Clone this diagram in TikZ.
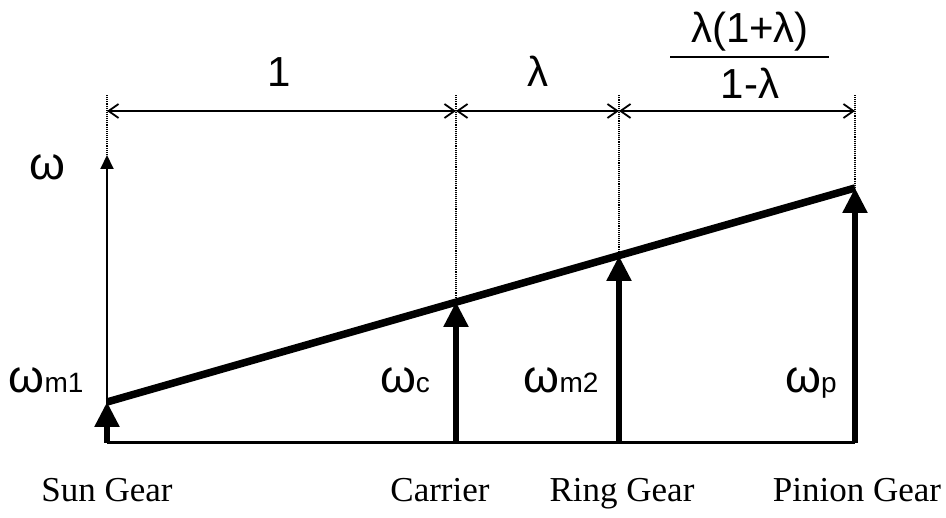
\documentclass[tikz,border=0pt]{standalone}
\usepackage{fontspec}
\setmainfont{Liberation Serif}
\newfontfamily\arialf{Liberation Sans}
\usetikzlibrary{arrows.meta}
\tikzset{
  gearlbl/.style={font=\fontsize{35}{40}\selectfont, inner sep=0pt},
  greek/.style={font=\arialf\fontsize{46}{50}\selectfont, inner sep=0pt},
  dimlbl/.style={font=\arialf\fontsize{42}{46}\selectfont, inner sep=0pt},
  guide/.style={densely dotted, line width=1.1pt},
  dimline/.style={line width=1.8pt, {Straight Barb[length=10pt,width=14pt]}-{Straight Barb[length=10pt,width=14pt]}},
  axisarrow/.style={line width=2pt, -{Triangle[length=14pt,width=13pt]}},
  speedarrow/.style={line width=5.5pt, -{Triangle[length=25pt,width=24pt]}},
  lever/.style={line width=7.5pt},
  baseline/.style={line width=3pt},
}
\newcommand{\sbs}[1]{{\fontsize{28}{30}\selectfont #1}}
\begin{document}
\begin{tikzpicture}[x=1pt,y=-1pt]
\useasboundingbox (0,0) rectangle (946,518);
% coordinates
\coordinate (S0) at (107,443); \coordinate (S1) at (107,402);
\coordinate (C0) at (456,443); \coordinate (C1) at (456,302);
\coordinate (R0) at (619,443); \coordinate (R1) at (619,256);
\coordinate (P0) at (855,443); \coordinate (P1) at (855,188);
\coordinate (Stip) at (107,155);
\coordinate (St) at (107,95); \coordinate (Ct) at (456,95);
\coordinate (Rt) at (619,95); \coordinate (Pt) at (855,95);
\coordinate (D0) at (107,111); \coordinate (D1) at (456,111);
\coordinate (D2) at (619,111); \coordinate (D3) at (855,111);
\coordinate (B0) at (670,57); \coordinate (B1) at (829,57);
% guides
\draw[guide] (Stip) -- (St);
\draw[guide] (C1) -- (Ct);
\draw[guide] (R1) -- (Rt);
\draw[guide] (P1) -- (Pt);
% dimension lines
\draw[dimline] (D0) -- (D1);
\draw[dimline] (D1) -- (D2);
\draw[dimline] (D2) -- (D3);
% axis
\draw[axisarrow] (S0) -- (Stip);
% baseline and lever
\draw[baseline] (S0) -- (P0);
\draw[lever] (S1) -- (P1);
% speed arrows
\draw[speedarrow] (S0) -- (S1);
\draw[speedarrow] (C0) -- (C1);
\draw[speedarrow] (R0) -- (R1);
\draw[speedarrow] (P0) -- (P1);
% dimension labels
\node[dimlbl, anchor=base] (l1) at (279,87) {1};
\node[dimlbl, anchor=base] (l2) at (538,87) {λ};
\node[dimlbl, anchor=base] (num) at (750,43) {λ(1+λ)};
\node[dimlbl, anchor=base] (den) at (750,99) {1-λ};
\draw[line width=2.2pt] (B0) -- (B1);
% greek labels
\node[greek, anchor=base] (w) at (47,180) {ω};
\node[greek, anchor=base] (wm1) at (46,393) {ω\sbs{m1}};
\node[greek, anchor=base] (wc) at (405,393) {ω\sbs{c}};
\node[greek, anchor=base] (wm2) at (561,393) {ω\sbs{m2}};
\node[greek, anchor=base] (wp) at (811,393) {ω\sbs{p}};
% gear labels
\node[gearlbl, anchor=base] (sun) at (107,502) {Sun Gear};
\node[gearlbl, anchor=base] (car) at (440,502) {Carrier};
\node[gearlbl, anchor=base] (ring) at (622,502) {Ring Gear};
\node[gearlbl, anchor=base] (pin) at (857,502) {Pinion Gear};
\end{tikzpicture}
\end{document}
